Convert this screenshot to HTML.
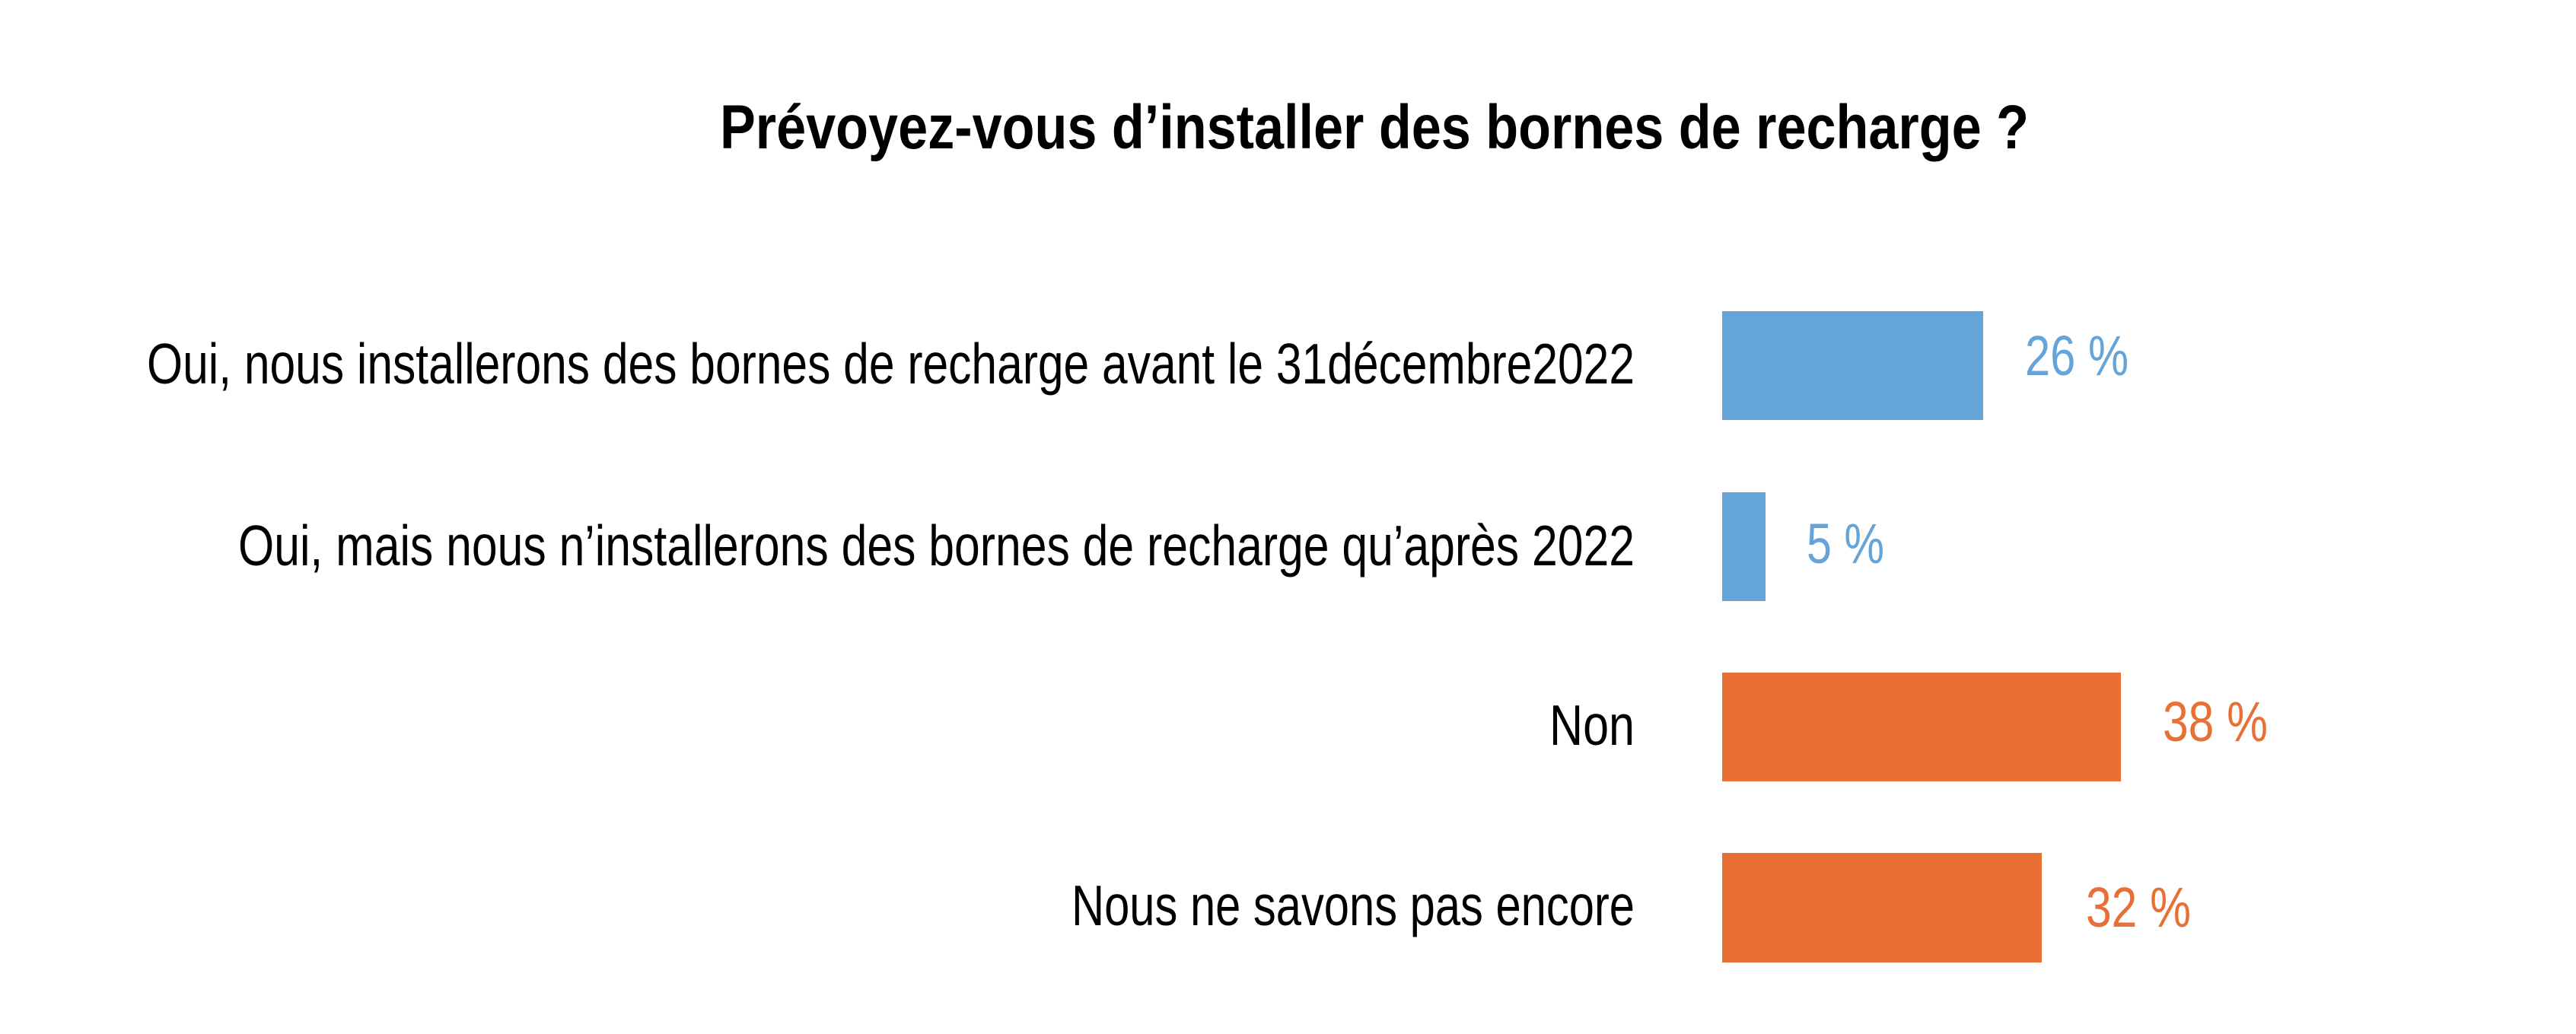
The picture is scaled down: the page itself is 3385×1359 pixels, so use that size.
<!DOCTYPE html>
<html><head><meta charset="utf-8"><style>html,body{margin:0;padding:0;background:#fff}svg{display:block}</style></head>
<body>
<svg width="3385" height="1359" viewBox="0 0 3385 1359" xmlns="http://www.w3.org/2000/svg" font-family="'Liberation Sans Narrow','Liberation Sans',sans-serif">
<rect width="3385" height="1359" fill="#fff"/>
<text x="946" y="195" font-size="82" font-weight="bold" fill="#000" textLength="1720" lengthAdjust="spacingAndGlyphs">Prévoyez-vous d’installer des bornes de recharge ?</text>
<g font-size="75" fill="#000" text-anchor="end">
<text x="2148" y="504" textLength="1955" lengthAdjust="spacingAndGlyphs">Oui, nous installerons des bornes de recharge avant le 31décembre2022</text>
<text x="2148" y="743" textLength="1835" lengthAdjust="spacingAndGlyphs">Oui, mais nous n’installerons des bornes de recharge qu’après 2022</text>
<text x="2148" y="979" textLength="112" lengthAdjust="spacingAndGlyphs">Non</text>
<text x="2148" y="1216" textLength="740" lengthAdjust="spacingAndGlyphs">Nous ne savons pas encore</text>
</g>
<rect x="2263" y="409" width="343" height="143" fill="#65A4D8"/>
<rect x="2263" y="647" width="57" height="143" fill="#65A4D8"/>
<rect x="2263" y="884" width="524" height="143" fill="#E87035"/>
<rect x="2263" y="1121" width="420" height="144" fill="#E87035"/>
<g font-size="74">
<text x="2661" y="493" fill="#65A4D8" textLength="136" lengthAdjust="spacingAndGlyphs">26 %</text>
<text x="2374" y="740" fill="#65A4D8" textLength="102" lengthAdjust="spacingAndGlyphs">5 %</text>
<text x="2842" y="974" fill="#E87035" textLength="138" lengthAdjust="spacingAndGlyphs">38 %</text>
<text x="2741" y="1218" fill="#E87035" textLength="138" lengthAdjust="spacingAndGlyphs">32 %</text>
</g>
</svg>
</body></html>
